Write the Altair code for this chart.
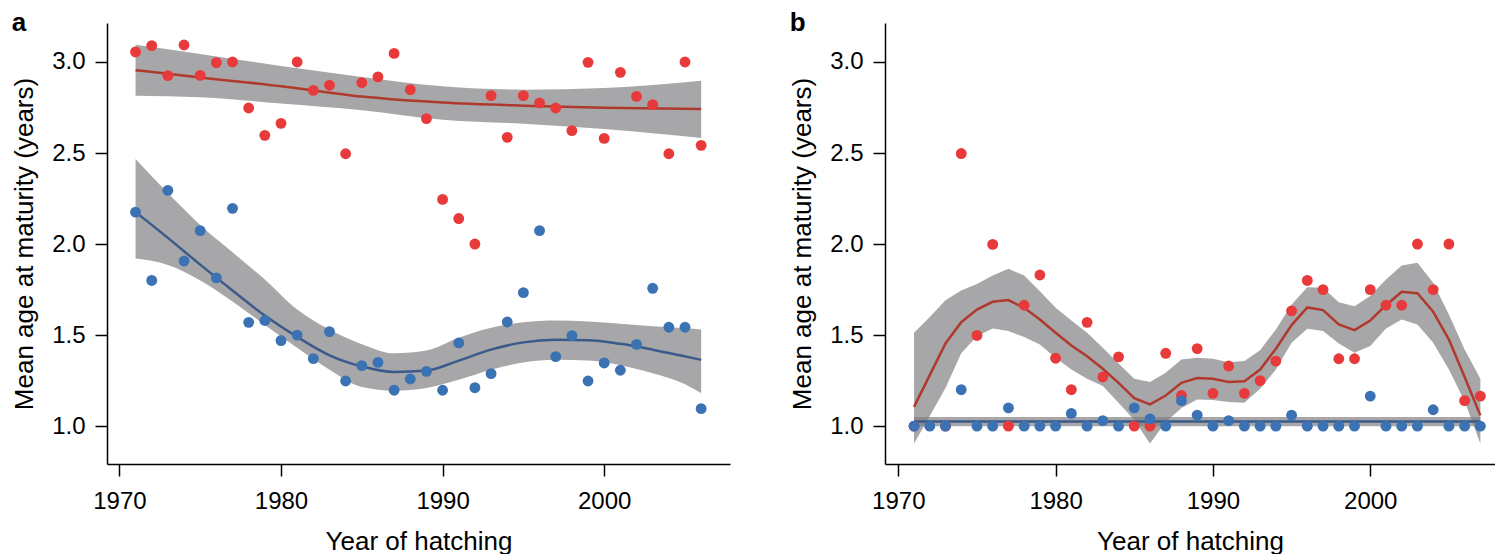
import altair as alt
import pandas as pd

FONT = "Liberation Sans"

# ---------------- panel a data ----------------
years_a = list(range(1971, 2007))
red_a = [3.055, 3.09, 2.925, 3.093, 2.926, 2.996, 3.0, 2.747, 2.597, 2.663,
         3.0, 2.844, 2.872, 2.496, 2.886, 2.918, 3.047, 2.848, 2.689, 2.245,
         2.14, 2.0, 2.815, 2.586, 2.815, 2.775, 2.747, 2.623, 2.998, 2.58,
         2.943, 2.811, 2.766, 2.496, 3.0, 2.542]
blue_a = [2.175, 1.80, 2.295, 1.907, 2.074, 1.814, 2.196, 1.57, 1.58, 1.47,
          1.50, 1.371, 1.519, 1.248, 1.332, 1.35, 1.197, 1.259, 1.301, 1.197,
          1.457, 1.211, 1.288, 1.572, 1.733, 2.074, 1.382, 1.497, 1.248, 1.347,
          1.307, 1.449, 1.757, 1.543, 1.543, 1.096]

red_fit_a_years = [1971, 1975, 1980, 1985, 1990, 1995, 2000, 2006]
red_fit_a = [2.955, 2.915, 2.867, 2.810, 2.777, 2.760, 2.749, 2.742]
red_hi_a = [3.095, 3.044, 2.978, 2.918, 2.866, 2.848, 2.857, 2.897]
red_lo_a = [2.815, 2.806, 2.772, 2.735, 2.683, 2.661, 2.632, 2.583]

blue_fit_a_years = [1971, 1973, 1975, 1977, 1979, 1981, 1983, 1985, 1987, 1989,
                    1991, 1993, 1995, 1997, 1999, 2001, 2003, 2005, 2006]
blue_fit_a = [2.176, 2.034, 1.887, 1.745, 1.607, 1.490, 1.389, 1.328, 1.297, 1.305,
              1.360, 1.420, 1.460, 1.474, 1.472, 1.452, 1.420, 1.383, 1.364]
blue_hi_a = [2.467, 2.280, 2.105, 1.955, 1.805, 1.640, 1.530, 1.450, 1.400, 1.415,
             1.485, 1.540, 1.570, 1.580, 1.575, 1.562, 1.548, 1.537, 1.530]
blue_lo_a = [1.920, 1.885, 1.800, 1.685, 1.555, 1.430, 1.310, 1.215, 1.195, 1.210,
             1.255, 1.310, 1.350, 1.364, 1.360, 1.335, 1.290, 1.230, 1.180]

# ---------------- panel b data ----------------
red_b_years = [1971] + list(range(1973, 2008))
red_b = [1.0, 1.0, 2.497, 1.498, 1.998, 1.0, 1.664, 1.83, 1.373, 1.20,
         1.57, 1.27, 1.38, 1.0, 1.0, 1.40, 1.168, 1.426, 1.18, 1.33,
         1.18, 1.25, 1.357, 1.633, 1.80, 1.75, 1.37, 1.37, 1.75, 1.664,
         1.664, 2.0, 1.75, 2.0, 1.14, 1.165]
blue_b_years = list(range(1971, 2008))
blue_b = [1.0, 1.0, 1.0, 1.20, 1.0, 1.0, 1.10, 1.0, 1.0, 1.0,
          1.07, 1.0, 1.03, 1.0, 1.10, 1.04, 1.0, 1.14, 1.06, 1.0,
          1.03, 1.0, 1.0, 1.0, 1.06, 1.0, 1.0, 1.0, 1.0, 1.165,
          1.0, 1.0, 1.0, 1.09, 1.0, 1.0, 1.0]

red_fit_b_years = list(range(1971, 2008))
red_fit_b = [1.106, 1.28, 1.454, 1.571, 1.64, 1.683, 1.692, 1.65, 1.586, 1.513,
             1.443, 1.384, 1.315, 1.238, 1.154, 1.119, 1.168, 1.238, 1.264, 1.26,
             1.243, 1.247, 1.311, 1.425, 1.555, 1.652, 1.637, 1.558, 1.527, 1.58,
             1.664, 1.738, 1.73, 1.628, 1.476, 1.27, 1.059]
red_hi_b = [1.513, 1.60, 1.692, 1.745, 1.78, 1.827, 1.864, 1.827, 1.741, 1.65,
            1.58, 1.513, 1.43, 1.344, 1.26, 1.242, 1.293, 1.366, 1.375, 1.37,
            1.351, 1.357, 1.417, 1.531, 1.668, 1.763, 1.76, 1.68, 1.659, 1.714,
            1.805, 1.882, 1.897, 1.787, 1.613, 1.421, 1.26]
red_lo_b = [0.905, 1.055, 1.21, 1.40, 1.494, 1.536, 1.522, 1.49, 1.448, 1.375,
            1.311, 1.26, 1.22, 1.128, 1.033, 0.905, 1.022, 1.10, 1.146, 1.143,
            1.132, 1.128, 1.205, 1.311, 1.458, 1.535, 1.522, 1.454, 1.403, 1.44,
            1.536, 1.586, 1.558, 1.458, 1.311, 1.137, 0.905]

blue_fit_b_years = [1971, 2007]
blue_fit_b = [1.025, 1.025]
blue_hi_b = [1.05, 1.05]
blue_lo_b = [1.0, 1.0]

x_ticks = [1970, 1980, 1990, 2000]
y_ticks = [1.0, 1.5, 2.0, 2.5, 3.0]

RED = "#E83A3A"
BLUE = "#3A72B4"
RED_LINE = "#B0392E"
BLUE_LINE = "#3B5A8C"
BAND = "#7d7d80"
Y_DOMAIN = [0.792, 3.214]
HEIGHT = 441


def xenc(field, dom):
    return alt.X(f"{field}:Q",
                 scale=alt.Scale(domain=dom, nice=False, zero=False),
                 axis=alt.Axis(values=x_ticks, format="d", title="Year of hatching"))


def yenc(field):
    return alt.Y(f"{field}:Q",
                 scale=alt.Scale(domain=Y_DOMAIN, nice=False, zero=False),
                 axis=alt.Axis(values=y_ticks, format=".1f",
                               title="Mean age at maturity (years)"))


def panel(letter, dom, width, fits, points, interp):
    layers = []
    for yrs, fit, lo, hi, lcol in fits:
        df = pd.DataFrame({"year": yrs, "fit": fit, "lo": lo, "hi": hi})
        layers.append(alt.Chart(df).mark_area(color=BAND, opacity=0.68, interpolate=interp)
                      .encode(x=xenc("year", dom), y=yenc("lo"), y2=alt.Y2("hi:Q")))
    for yrs, fit, lo, hi, lcol in fits:
        df = pd.DataFrame({"year": yrs, "fit": fit})
        layers.append(alt.Chart(df).mark_line(color=lcol, strokeWidth=2.5, interpolate=interp)
                      .encode(x=xenc("year", dom), y=yenc("fit")))
    for yrs, vals, col in points:
        df = pd.DataFrame({"year": yrs, "value": vals})
        layers.append(alt.Chart(df).mark_circle(color=col, opacity=1, size=118)
                      .encode(x=xenc("year", dom), y=yenc("value")))
    return alt.layer(*layers).properties(
        width=width, height=HEIGHT,
        title=alt.TitleParams(text=letter, anchor="start", fontSize=26, fontWeight="bold",
                              font=FONT, color="black", offset=-13))


pa = panel("a", [1969.233, 2007.785], 623,
           [(red_fit_a_years, red_fit_a, red_lo_a, red_hi_a, RED_LINE),
            (blue_fit_a_years, blue_fit_a, blue_lo_a, blue_hi_a, BLUE_LINE)],
           [(years_a, red_a, RED), (years_a, blue_a, BLUE)], "monotone")

pb = panel("b", [1969.155, 2007.93], 610,
           [(red_fit_b_years, red_fit_b, red_lo_b, red_hi_b, RED_LINE),
            (blue_fit_b_years, blue_fit_b, blue_lo_b, blue_hi_b, BLUE_LINE)],
           [(red_b_years, red_b, RED), (blue_b_years, blue_b, BLUE)], "linear")

chart = alt.hconcat(pa, pb, spacing=59).properties(
    padding={"left": 3, "top": 2, "right": 0, "bottom": 0}
).configure_view(stroke=None).configure_axis(
    grid=False, domainColor="black", domainWidth=1.5, tickColor="black", tickWidth=1.5,
    tickSize=12, labelFont=FONT, titleFont=FONT, labelFontSize=24, titleFontSize=26,
    labelColor="black", titleColor="black", titleFontWeight="normal",
    labelPadding=10
).configure_axisX(labelPadding=13, titlePadding=15).configure_axisY(titlePadding=14)

chart.save("out.html", embed_options={"renderer": "svg", "actions": False})
